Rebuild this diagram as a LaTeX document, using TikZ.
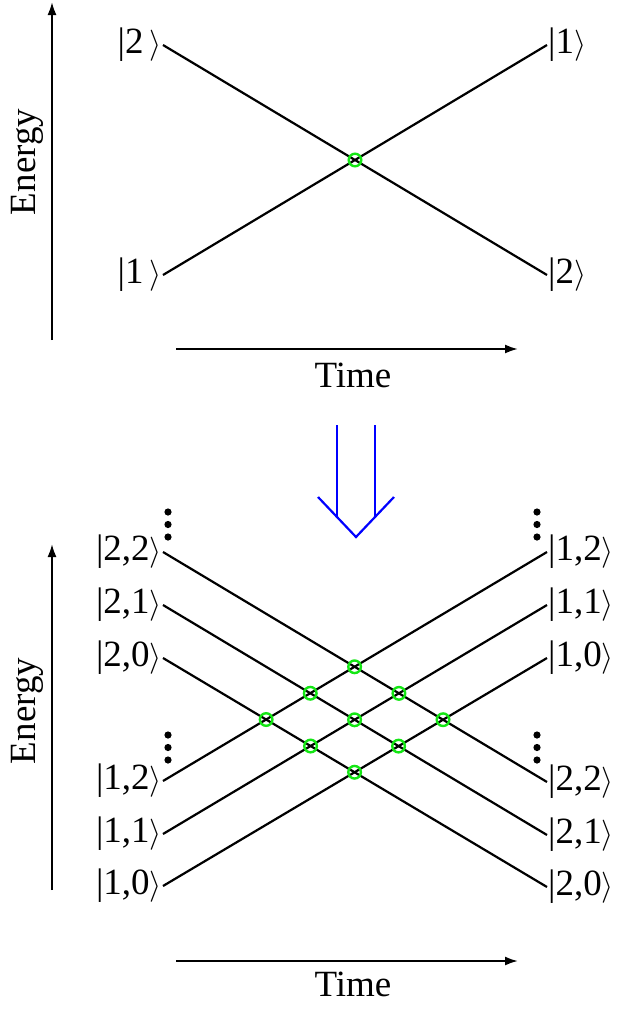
\documentclass[tikz,border=0pt]{standalone}
\usepackage{fontspec}
\setmainfont{Liberation Serif}
\usetikzlibrary{arrows.meta}
\definecolor{xgreen}{RGB}{20,230,20}
\definecolor{xblue}{RGB}{0,0,255}
\newcommand{\statefont}{\fontsize{37}{44}\selectfont}
\newcommand{\kr}{\scalebox{1.25}{$\rangle$}}
\begin{document}
\begin{tikzpicture}[x=1pt, y=-1pt,
    state/.style={font=\statefont, inner sep=1pt},
    axislabel/.style={font=\statefont, inner sep=0pt},
    level/.style={line width=2.2pt, black},
    axis/.style={-{Latex[length=13pt, width=9pt]}, line width=2pt},
    xing/.style={draw=xgreen, line width=2.4pt},
    bigarr/.style={line width=2.2pt, xblue}
  ]
    \useasboundingbox (0,0) rectangle (618,1010);

    % Top panel: two levels
    \coordinate (t2l) at (163,45);
    \coordinate (t2r) at (547,275);
    \coordinate (t1l) at (163,275);
    \coordinate (t1r) at (547,45);
    \node[state, anchor=east] (s2l) at (t2l) {|2\,\kr};
    \node[state, anchor=east] (s1l) at (t1l) {|1\,\kr};
    \node[state, anchor=west] (s1r) at (t1r) {|1\kr};
    \node[state, anchor=west] (s2r) at (t2r) {|2\kr};
    \draw[level] (t2l) -- (t2r);
    \draw[level] (t1l) -- (t1r);
    \draw[xing] (intersection of t2l--t2r and t1l--t1r) circle (6.3pt);

    % Top axes
    \coordinate (e1a) at (52,340);
    \coordinate (e1b) at (52,2);
    \coordinate (h1a) at (176,349);
    \coordinate (h1b) at (518,349);
    \draw[axis] (e1a) -- (e1b);
    \draw[axis] (h1a) -- (h1b);
    \node[axislabel, rotate=90] (en1) at (27,162) {Energy};
    \node[axislabel] (ti1) at (353,375) {Time};

    % Blue arrow
    \coordinate (b1) at (337,425);
    \coordinate (b2) at (337,516);
    \coordinate (b3) at (375,425);
    \coordinate (b4) at (375,516);
    \coordinate (v1) at (318,497);
    \coordinate (v2) at (356,537);
    \coordinate (v3) at (394,497);
    \draw[bigarr] (b1) -- (b2);
    \draw[bigarr] (b3) -- (b4);
    \draw[bigarr] (v1) -- (v2) -- (v3);

    % Bottom panel: level ends
    \coordinate (L22) at (163,552);
    \coordinate (L21) at (163,605);
    \coordinate (L20) at (163,658);
    \coordinate (L12) at (163,781);
    \coordinate (L11) at (163,834);
    \coordinate (L10) at (163,886);
    \coordinate (R12) at (547,552);
    \coordinate (R11) at (547,605);
    \coordinate (R10) at (547,658);
    \coordinate (R22) at (547,782);
    \coordinate (R21) at (547,835);
    \coordinate (R20) at (547,887);

    % Bottom panel: labels
    \node[state, anchor=east] (l22) at (L22) {|2,2\kr};
    \node[state, anchor=east] (l21) at (L21) {|2,1\kr};
    \node[state, anchor=east] (l20) at (L20) {|2,0\kr};
    \node[state, anchor=east] (l12) at (L12) {|1,2\kr};
    \node[state, anchor=east] (l11) at (L11) {|1,1\kr};
    \node[state, anchor=east] (l10) at (L10) {|1,0\kr};
    \node[state, anchor=west] (r12) at (R12) {|1,2\kr};
    \node[state, anchor=west] (r11) at (R11) {|1,1\kr};
    \node[state, anchor=west] (r10) at (R10) {|1,0\kr};
    \node[state, anchor=west] (r22) at (R22) {|2,2\kr};
    \node[state, anchor=west] (r21) at (R21) {|2,1\kr};
    \node[state, anchor=west] (r20) at (R20) {|2,0\kr};

    % Bottom panel: levels
    \draw[level] (L22) -- (R22);
    \draw[level] (L21) -- (R21);
    \draw[level] (L20) -- (R20);
    \draw[level] (L12) -- (R12);
    \draw[level] (L11) -- (R11);
    \draw[level] (L10) -- (R10);

    % Crossings
    \draw[xing] (intersection of L22--R22 and L12--R12) circle (6.3pt);
    \draw[xing] (intersection of L22--R22 and L11--R11) circle (6.3pt);
    \draw[xing] (intersection of L22--R22 and L10--R10) circle (6.3pt);
    \draw[xing] (intersection of L21--R21 and L12--R12) circle (6.3pt);
    \draw[xing] (intersection of L21--R21 and L11--R11) circle (6.3pt);
    \draw[xing] (intersection of L21--R21 and L10--R10) circle (6.3pt);
    \draw[xing] (intersection of L20--R20 and L12--R12) circle (6.3pt);
    \draw[xing] (intersection of L20--R20 and L11--R11) circle (6.3pt);
    \draw[xing] (intersection of L20--R20 and L10--R10) circle (6.3pt);

    % Vertical dots
    \foreach \x in {168,537}
      \foreach \y in {512,524.5,537,735,747.5,760}
        \fill (\x,\y) circle (3.6pt);

    % Bottom axes
    \coordinate (e2a) at (52,890);
    \coordinate (e2b) at (52,544);
    \coordinate (h2a) at (176,961);
    \coordinate (h2b) at (518,961);
    \draw[axis] (e2a) -- (e2b);
    \draw[axis] (h2a) -- (h2b);
    \node[axislabel, rotate=90] (en2) at (27,711) {Energy};
    \node[axislabel] (ti2) at (353,984) {Time};
  \end{tikzpicture}
\end{document}
